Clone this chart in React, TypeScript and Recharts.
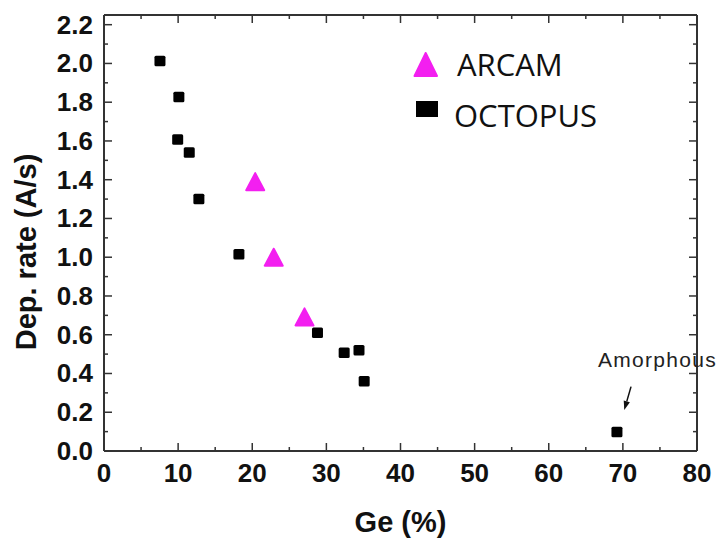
import React from 'react';
import {
  ScatterChart,
  Scatter,
  XAxis,
  YAxis,
  Legend,
  ReferenceLine,
  ReferenceDot,
} from 'recharts';

// Ge content (%) and deposition rate (A/s)
const arcamGe = [20.4, 22.9, 27.05];
const arcamRate = [1.39, 1.0, 0.692];
const octopusGe = [7.55, 10.1, 9.94, 11.5, 12.8, 18.2, 28.8, 32.4, 34.4, 35.1, 69.2];
const octopusRate = [2.012, 1.827, 1.608, 1.541, 1.3, 1.015, 0.61, 0.507, 0.52, 0.36, 0.098];

const xTicks = [0, 5, 10, 15, 20, 25, 30, 35, 40, 45, 50, 55, 60, 65, 70, 75, 80];
const yTicks = [
  0, 0.1, 0.2, 0.3, 0.4, 0.5, 0.6, 0.7, 0.8, 0.9, 1.0, 1.1, 1.2, 1.3, 1.4, 1.5, 1.6, 1.7, 1.8,
  1.9, 2.0, 2.1, 2.2,
];
const seriesNames = ['ARCAM', 'OCTOPUS'];

const arcamData = arcamGe.map((x, i) => ({ x, y: arcamRate[i] }));
const octopusData = octopusGe.map((x, i) => ({ x, y: octopusRate[i] }));

const AXIS_COLOR = '#333';
const TICK_FONT = {
  fontFamily: '"Liberation Sans", Arial, sans-serif',
  fontWeight: 700,
  fontSize: 26,
  fill: '#111',
};

const isMajorX = (v: number) => v % 10 === 0;
const isMajorY = (v: number) => Math.round(v * 10) % 2 === 0;

const BottomTick = (props: any) => {
  const { x, y, payload } = props;
  const major = isMajorX(payload.value);
  return (
    <g>
      <line x1={x} y1={y} x2={x} y2={y - (major ? 8 : 4)} stroke={AXIS_COLOR} strokeWidth={1.5} />
      {major && (
        <text x={x} y={y + 31} textAnchor="middle" {...TICK_FONT}>
          {payload.value}
        </text>
      )}
    </g>
  );
};

const TopTick = (props: any) => {
  const { x, y, payload } = props;
  const major = isMajorX(payload.value);
  return <line x1={x} y1={y} x2={x} y2={y + (major ? 8 : 4)} stroke={AXIS_COLOR} strokeWidth={1.5} />;
};

const LeftTick = (props: any) => {
  const { x, y, payload } = props;
  const major = isMajorY(payload.value);
  return (
    <g>
      <line x1={x} y1={y} x2={x + (major ? 8 : 4)} y2={y} stroke={AXIS_COLOR} strokeWidth={1.5} />
      {major && (
        <text x={x - 11} y={y + 9} textAnchor="end" {...TICK_FONT}>
          {payload.value.toFixed(1)}
        </text>
      )}
    </g>
  );
};

const RightTick = (props: any) => {
  const { x, y, payload } = props;
  const major = isMajorY(payload.value);
  return <line x1={x} y1={y} x2={x - (major ? 8 : 4)} y2={y} stroke={AXIS_COLOR} strokeWidth={1.5} />;
};

const TriangleShape = (props: any) => {
  const { cx, cy } = props;
  const w = 18;
  const h = 17;
  return (
    <polygon
      points={`${cx - w / 2},${cy + h / 2} ${cx + w / 2},${cy + h / 2} ${cx},${cy - h / 2}`}
      fill="#f31ff0"
      stroke="#f31ff0"
      strokeWidth={2}
      strokeLinejoin="round"
    />
  );
};

const SquareShape = (props: any) => {
  const { cx, cy } = props;
  return <rect x={cx - 5.5} y={cy - 5.25} width={11} height={10.5} rx={1.5} fill="#000" />;
};

const renderLegend = () => (
  <svg width={210} height={100}>
    <polygon points="9.5,36 32,36 20.7,13" fill="#f31ff0" stroke="#f31ff0" strokeWidth={2} strokeLinejoin="round" />
    <text x={52} y={36} fontFamily='"Open Sans", sans-serif' fontSize={31} fill="#111">
      {seriesNames[0]}
    </text>
    <rect x={11} y={61} width={22} height={16} fill="#000" />
    <text x={49} y={87} fontFamily='"Open Sans", sans-serif' fontSize={31} fill="#111">
      {seriesNames[1]}
    </text>
  </svg>
);

const ArrowShape = (props: any) => {
  const { x1, y1, x2, y2 } = props;
  const ang = Math.atan2(y2 - y1, x2 - x1);
  const len = 9;
  const half = 3.2;
  const bx = x2 - len * Math.cos(ang);
  const by = y2 - len * Math.sin(ang);
  const px = -Math.sin(ang) * half;
  const py = Math.cos(ang) * half;
  return (
    <g>
      <line x1={x1} y1={y1} x2={bx} y2={by} stroke="#111" strokeWidth={1.5} />
      <polygon points={`${x2},${y2} ${bx + px},${by + py} ${bx - px},${by - py}`} fill="#111" />
    </g>
  );
};

const AmorphousText = (props: any) => (
  <text
    x={props.cx}
    y={props.cy}
    fontFamily='"Liberation Sans", Arial, sans-serif'
    fontSize={21}
    letterSpacing={1.3}
    fill="#222"
  >
    Amorphous
  </text>
);

const XLabel = (props: any) => {
  const { viewBox } = props;
  return (
    <text
      x={viewBox.x + viewBox.width / 2}
      y={viewBox.y + 81}
      textAnchor="middle"
      fontFamily='"Liberation Sans", Arial, sans-serif'
      fontWeight={700}
      fontSize={29}
      fill="#111"
    >
      Ge (%)
    </text>
  );
};

const YLabel = (props: any) => {
  const { viewBox } = props;
  const cx = 36;
  const cy = viewBox.y + viewBox.height / 2 + 19;
  return (
    <text
      x={cx}
      y={cy}
      transform={`rotate(-90, ${cx}, ${cy})`}
      textAnchor="middle"
      fontFamily='"Liberation Sans", Arial, sans-serif'
      fontWeight={700}
      fontSize={29}
      fill="#111"
    >
      Dep. rate (A/s)
    </text>
  );
};

export default function App() {
  return (
    <div style={{ position: 'absolute', left: 0, top: 0, width: 718, height: 539, background: '#fff' }}>
      <ScatterChart width={718} height={539} margin={{ top: 0, right: 0, bottom: 0, left: 0 }}>
        <XAxis
          xAxisId="b"
          type="number"
          dataKey="x"
          orientation="bottom"
          domain={[0, 80]}
          ticks={xTicks}
          interval={0}
          height={88}
          tickSize={0}
          tickMargin={0}
          tick={<BottomTick />}
          axisLine={{ stroke: AXIS_COLOR, strokeWidth: 2 }}
          allowDataOverflow
          label={<XLabel />}
        />
        <XAxis
          xAxisId="t"
          type="number"
          dataKey="x"
          orientation="top"
          domain={[0, 80]}
          ticks={xTicks}
          interval={0}
          height={15}
          tickSize={0}
          tickMargin={0}
          tick={<TopTick />}
          axisLine={{ stroke: AXIS_COLOR, strokeWidth: 2 }}
          allowDataOverflow
        />
        <YAxis
          yAxisId="l"
          type="number"
          dataKey="y"
          orientation="left"
          domain={[0, 2.25]}
          ticks={yTicks}
          interval={0}
          width={104}
          tickSize={0}
          tickMargin={0}
          tick={<LeftTick />}
          axisLine={{ stroke: AXIS_COLOR, strokeWidth: 2 }}
          allowDataOverflow
          label={<YLabel />}
        />
        <YAxis
          yAxisId="r"
          type="number"
          dataKey="y"
          orientation="right"
          domain={[0, 2.25]}
          ticks={yTicks}
          interval={0}
          width={21}
          tickSize={0}
          tickMargin={0}
          tick={<RightTick />}
          axisLine={{ stroke: AXIS_COLOR, strokeWidth: 2 }}
          allowDataOverflow
        />
        <Legend
          layout="horizontal"
          verticalAlign="middle"
          align="center"
          content={renderLegend}
          wrapperStyle={{ position: 'absolute', left: 405, top: 40, width: 210, height: 100 }}
        />
        <ReferenceDot
          xAxisId="b"
          yAxisId="l"
          x={66.64}
          y={0.4335}
          r={0}
          shape={<AmorphousText />}
        />
        <ReferenceLine
          xAxisId="b"
          yAxisId="l"
          segment={[
            { x: 71.1, y: 0.332 },
            { x: 70.19, y: 0.2116 },
          ]}
          shape={<ArrowShape />}
        />
        <Scatter
          name={seriesNames[1]}
          xAxisId="b"
          yAxisId="l"
          data={octopusData}
          shape={<SquareShape />}
          isAnimationActive={false}
        />
        <Scatter
          name={seriesNames[0]}
          xAxisId="b"
          yAxisId="l"
          data={arcamData}
          shape={<TriangleShape />}
          isAnimationActive={false}
        />
      </ScatterChart>
    </div>
  );
}
